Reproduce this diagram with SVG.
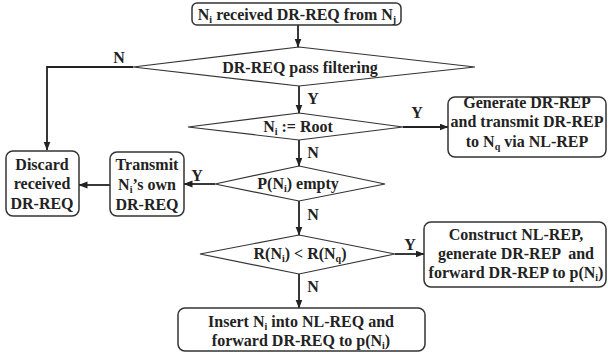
<svg xmlns="http://www.w3.org/2000/svg" width="608" height="354" viewBox="0 0 608 354">
<defs>
<marker id="arr" markerUnits="userSpaceOnUse" markerWidth="9" markerHeight="8" refX="8.5" refY="3.5" orient="auto">
<path d="M0,0 L9,3.5 L0,7 z" fill="#222"/>
</marker>
<style>
.box{fill:#fff;stroke:#333;stroke-width:1.5}
.dia{fill:#fff;stroke:#333;stroke-width:1.2}
.con{fill:none;stroke:#222;stroke-width:1.8}
.arr{marker-end:url(#arr)}
text{font-family:"Liberation Serif","Times New Roman",serif;font-weight:bold;font-size:16px;fill:#222;text-anchor:middle}
.sub{font-size:10px}
</style>
</defs>
<rect width="608" height="354" fill="#fff"/>
<g id="connectors">
<path class="con arr" d="M298,25 V47"/>
<path class="con arr" d="M133,67 H47 V150"/>
<path class="con arr" d="M299,86 V113"/>
<path class="con arr" d="M403,127 H448"/>
<path class="con arr" d="M299,140 V166"/>
<path class="con arr" d="M215,184 H184"/>
<path class="con arr" d="M110,185 H79"/>
<path class="con arr" d="M299,201 V235"/>
<path class="con arr" d="M395,254 H424"/>
<path class="con arr" d="M299,274 V308"/>
<text x="119" y="63">N</text>
<text x="313" y="104">Y</text>
<text x="417" y="118">Y</text>
<text x="313" y="158">N</text>
<text x="197" y="181">Y</text>
<text x="313" y="220">N</text>
<text x="410" y="250">Y</text>
<text x="313" y="292">N</text>
</g>
<g id="start">
<rect class="box" x="192" y="3" width="209" height="22" rx="5"/>
<text x="297" y="20">N<tspan class="sub" dy="3">i</tspan><tspan dy="-3"> received DR-REQ from N</tspan><tspan class="sub" dy="3">j</tspan></text>
</g>
<g id="filter">
<polygon class="dia" points="299,47 475,67 299,86 133,67"/>
<text x="300" y="73">DR-REQ pass filtering</text>
</g>
<g id="root">
<polygon class="dia" points="299,113 403,127 299,140 188,127"/>
<text x="298" y="132">N<tspan class="sub" dy="3">i</tspan><tspan dy="-3">  := Root</tspan></text>
</g>
<g id="generate">
<rect class="box" x="448" y="97" width="158" height="60" rx="7"/>
<text x="527" y="108">Generate DR-REP</text>
<text x="527" y="127">and transmit DR-REP</text>
<text x="527" y="147">to N<tspan class="sub" dy="3">q</tspan><tspan dy="-3"> via NL-REP</tspan></text>
</g>
<g id="empty">
<polygon class="dia" points="299,166 385,184 299,201 215,184"/>
<text x="298" y="189">P(N<tspan class="sub" dy="3">i</tspan><tspan dy="-3">) empty</tspan></text>
</g>
<g id="transmit">
<rect class="box" x="110" y="152" width="74" height="64" rx="7"/>
<text x="147" y="170">Transmit</text>
<text x="147" y="190">N<tspan class="sub" dy="3">i</tspan><tspan dy="-3">’s own</tspan></text>
<text x="147" y="210">DR-REQ</text>
</g>
<g id="discard">
<rect class="box" x="6" y="151" width="73" height="65" rx="7"/>
<text x="42" y="170">Discard</text>
<text x="42" y="189">received</text>
<text x="42" y="209">DR-REQ</text>
</g>
<g id="compare">
<polygon class="dia" points="299,235 395,254 299,274 200,254"/>
<text x="300" y="259">R(N<tspan class="sub" dy="3">i</tspan><tspan dy="-3">) &lt; R(N</tspan><tspan class="sub" dy="3">q</tspan><tspan dy="-3">)</tspan></text>
</g>
<g id="construct">
<rect class="box" x="424" y="222" width="182" height="65" rx="7"/>
<text x="516" y="240">Construct NL-REP,</text>
<text x="516" y="259" xml:space="preserve">generate DR-REP  and</text>
<text x="516" y="278">forward DR-REP to p(N<tspan class="sub" dy="3">i</tspan><tspan dy="-3">)</tspan></text>
</g>
<g id="insert">
<rect class="box" x="178" y="308" width="247" height="43" rx="7"/>
<text x="301" y="327">Insert N<tspan class="sub" dy="3">i</tspan><tspan dy="-3"> into NL-REQ and</tspan></text>
<text x="301" y="346">forward DR-REQ to p(N<tspan class="sub" dy="3">i</tspan><tspan dy="-3">)</tspan></text>
</g>
</svg>
